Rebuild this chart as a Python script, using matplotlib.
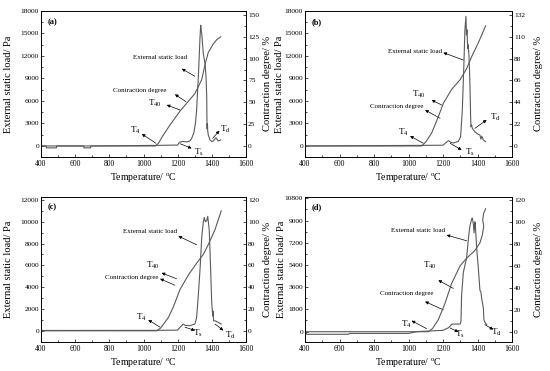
"""
Four-panel softening/melting curves: external static load and contraction degree vs temperature.
"""

import matplotlib.pyplot as plt
from matplotlib.ticker import MultipleLocator

plt.rcParams['font.family'] = ['Liberation Serif', 'DejaVu Serif']
plt.rcParams['mathtext.fontset'] = 'custom'
plt.rcParams['mathtext.rm'] = 'Liberation Serif'
plt.rcParams['mathtext.it'] = 'Liberation Serif:italic'

# ---- panel (a) ----
a_contr_temp = [400, 1070, 1087, 1116, 1155, 1214, 1253, 1301, 1341, 1360, 1379, 1409, 1430, 1452]
a_contr = [0, 0, 3, 12.6, 24, 40, 49, 60, 76, 93, 107, 117, 122, 125]
a_load_temp = [400, 430, 431, 490, 491, 650, 651, 690, 691, 1077, 1200, 1210, 1230, 1255, 1270,
               1282, 1295, 1305, 1311, 1321, 1331, 1335, 1338, 1341, 1350, 1360, 1366, 1370,
               1372, 1374, 1376, 1379, 1389, 1400, 1409, 1424, 1438, 1452]
a_load = [0, 0, -250, -250, 0, 0, -250, -250, 0, 80, 120, 500, 600, 550, 650,
          1000, 1800, 3200, 4800, 9200, 14600, 16100, 15400, 15000, 12300, 11000, 9200, 6600,
          2300, 3000, 2000, 1500, 800, 600, 670, 1100, 670, 800]

# ---- panel (b) ----
b_contr_temp = [400, 1076, 1100, 1134, 1173, 1202, 1250, 1300, 1337, 1366, 1405, 1447]
b_contr = [0, 0, 4, 13, 29.5, 43, 57, 67, 78, 90, 104, 121]
b_load_temp = [400, 1076, 1200, 1215, 1231, 1245, 1260, 1289, 1302, 1312, 1322, 1327, 1333,
               1336, 1339, 1343, 1346, 1351, 1356, 1360, 1362, 1366, 1370, 1385, 1400, 1414,
               1420, 1425, 1434, 1447]
b_load = [0, 80, 100, 400, 700, 500, 400, 600, 1240, 4800, 11500, 15500, 17300,
          14800, 15500, 13000, 13500, 11900, 8350, 4000, 2570, 2800, 2350, 1900, 1600, 1470,
          900, 1300, 800, 570]

# ---- panel (c) ----
c_contr_temp = [400, 1077, 1100, 1145, 1175, 1214, 1262, 1311, 1350, 1379, 1419, 1455]
c_contr = [0, 0, 2.5, 12, 22, 38, 51, 62, 70, 79, 93, 110]
c_load_temp = [400, 1077, 1200, 1214, 1233, 1243, 1272, 1301, 1311, 1321, 1331, 1341, 1350,
               1356, 1362, 1370, 1376, 1381, 1385, 1393, 1399, 1405, 1408, 1410, 1419, 1438, 1455]
c_load = [30, 40, 60, 330, 620, 500, 470, 620, 1220, 3290, 5660, 8620, 9960,
          10400, 10000, 10100, 10500, 9800, 9200, 5660, 2700, 1360, 1800, 900, 920, 770, 620]

# ---- panel (d) ----
d_contr_temp = [400, 1115, 1140, 1173, 1212, 1250, 1299, 1337, 1385, 1414, 1428, 1436, 1430, 1436, 1447]
d_contr = [0, 0, 3, 11, 26, 44, 60, 67, 74, 81, 88, 96, 102, 108, 112]
d_load_temp = [400, 410, 650, 660, 1000, 1050, 1200, 1230, 1241, 1250, 1279, 1299, 1304, 1308,
               1318, 1337, 1347, 1356, 1366, 1370, 1376, 1380, 1385, 1388, 1391, 1395, 1405,
               1414, 1420, 1424, 1434, 1437, 1440, 1453]
d_load = [0, -220, -220, -150, -150, 0, 100, 300, 430, 600, 610, 610, 800, 3000,
          4800, 6000, 7500, 8560, 9100, 9200, 8700, 8000, 8900, 8500, 7760, 6820, 5100,
          3360, 3200, 2700, 1900, 1000, 830, 560]

x_ticks = [400, 600, 800, 1000, 1200, 1400, 1600]

# rect = frame in pixels (left, top, right, bottom); ylab = centre x of left/right y labels
panels = [
    dict(tag='(a)', rect=[41, 11, 246, 156.7], ylab=(8, 268.5),
         contr=(a_contr_temp, a_contr), load=(a_load_temp, a_load),
         ylim=(-1430, 18000), ystep=3000, rlim=(-12.3, 154.6), rstep=25,
         esl=((1097, 11800), (1224, 10300), (1300, 9300)),
         cd=((980, 7370), (1184, 6890), (1249, 5900)),
         t40=((1067, 5730), (1136, 5470), (1214, 4800)),
         t4=((950, 2040), (990, 1600), (1073, 360)),
         ts=((1322, -900), (1282, -310), (1214, 300)),
         td=((1482, 2250), (1444, 2040), (1405, 1020))),
    dict(tag='(b)', rect=[305, 11, 512, 156.7], ylab=(279, 540),
         contr=(b_contr_temp, b_contr), load=(b_load_temp, b_load),
         ylim=(-1430, 18000), ystep=3000, rlim=(-10.8, 136), rstep=22,
         esl=((1038, 12570), (1202, 12440), (1318, 11460)),
         cd=((931, 5240), (1096, 4800), (1183, 3690)),
         t40=((1062, 6900), (1134, 6130), (1192, 5470)),
         t4=((970, 1780), (1009, 1330), (1086, 360)),
         ts=((1355, -900), (1308, -530), (1241, 360)),
         td=((1505, 3850), (1453, 3470), (1385, 2350))),
    dict(tag='(c)', rect=[41, 196.7, 246, 341.7], ylab=(8, 269),
         contr=(c_contr_temp, c_contr), load=(c_load_temp, c_load),
         ylim=(-1000, 12300), ystep=2000, rlim=(-10, 123), rstep=20,
         esl=((1038, 9070), (1204, 8690), (1311, 7890)),
         cd=((931, 4920), (1097, 4770), (1184, 4180)),
         t40=((1052, 5960), (1106, 5310), (1194, 4770)),
         t4=((989, 1270), (1028, 1000), (1097, 330)),
         ts=((1318, -250), (1301, 30), (1243, 330)),
         td=((1506, -420), (1467, 30), (1419, 620))),
    dict(tag='(d)', rect=[305, 196.7, 512, 341.7], ylab=(280, 540),
         contr=(d_contr_temp, d_contr), load=(d_load_temp, d_load),
         ylim=(-820, 10930), ystep=1800, rlim=(-9.1, 123), rstep=20,
         esl=((1057, 8160), (1221, 7820), (1337, 7360)),
         cd=((990, 3100), (1096, 2430), (1202, 1760)),
         t40=((1125, 5360), (1173, 4160), (1260, 3500)),
         t4=((990, 560), (1018, 880), (1105, 240)),
         ts=((1296, -260), (1289, -30), (1241, 290)),
         td=((1511, -30), (1491, 160), (1443, 560))),
]

W, H = 550, 371
fig = plt.figure(figsize=(W / 100, H / 100), dpi=100)

line_kw = dict(color='#5a5a5a', linewidth=0.8)
arrow_kw = dict(arrowstyle='-|>', color='black', lw=0.5, mutation_scale=4.5,
                shrinkA=0, shrinkB=0)


def label_arrow(ax, spec, text, size):
    (tx, ty), head, tail = spec
    ax.annotate('', xy=head, xytext=tail, arrowprops=arrow_kw)
    ax.text(tx, ty, text, fontsize=size, ha='center', va='center')


for p in panels:
    x0, y0, x1, y1 = p['rect']
    w = x1 - x0
    ax = fig.add_axes([x0 / W, 1 - y1 / H, w / W, (y1 - y0) / H])
    ax2 = ax.twinx()

    ax.plot(*p['load'], **line_kw)
    ax2.plot(*p['contr'], **line_kw)

    ax.set_xlim(400, 1600)
    ax.set_xticks(x_ticks)
    ax.xaxis.set_minor_locator(MultipleLocator(100))
    ax.set_ylim(*p['ylim'])
    ax.yaxis.set_major_locator(MultipleLocator(p['ystep']))
    ax.yaxis.set_minor_locator(MultipleLocator(p['ystep'] / 2))
    ax2.set_ylim(*p['rlim'])
    ax2.yaxis.set_major_locator(MultipleLocator(p['rstep']))
    ax2.yaxis.set_minor_locator(MultipleLocator(p['rstep'] / 2))

    for a in (ax, ax2):
        a.tick_params(which='major', direction='in', length=2.5, width=0.5,
                      labelsize=5.3, pad=1.5)
        a.tick_params(which='minor', direction='in', length=1.3, width=0.5)
        for s in a.spines.values():
            s.set_linewidth(0.6)
    ax.tick_params(axis='x', labelsize=5.5, pad=2.7)

    ax.set_xlabel('Temperature/ $^{\\rm o}$C', fontsize=7, labelpad=1.5)
    ax.set_ylabel('External static load/ Pa', fontsize=7.6)
    ax2.set_ylabel('Contraction degree/ %', fontsize=7.6)
    left_c, right_c = p['ylab']
    ax.yaxis.set_label_coords((left_c + 5.5 - x0) / w, 0.5)
    ax2.yaxis.set_label_coords((right_c - 6 - x0) / w, 0.5)

    ax.text(0.03, 0.925, p['tag'], transform=ax.transAxes, fontsize=6,
            fontweight='bold', ha='left', va='center')

    label_arrow(ax, p['esl'], 'External static load', 5)
    label_arrow(ax, p['cd'], 'Contraction degree', 5)
    label_arrow(ax, p['t40'], 'T$_{\\rm 40}$', 6.5)
    label_arrow(ax, p['t4'], 'T$_{\\rm 4}$', 6.5)
    label_arrow(ax, p['ts'], 'T$_{\\rm s}$', 6.5)
    label_arrow(ax, p['td'], 'T$_{\\rm d}$', 6.5)

fig.savefig('out.png', dpi=100)
